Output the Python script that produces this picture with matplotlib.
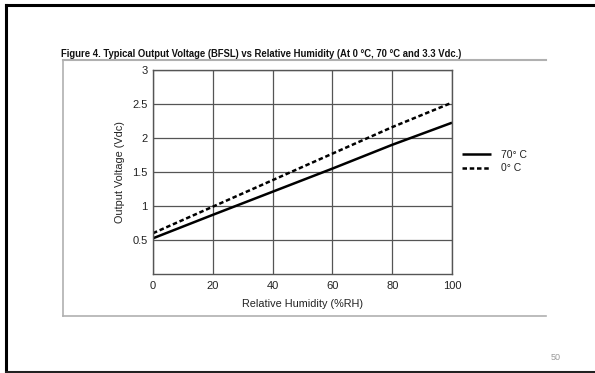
import matplotlib
matplotlib.use("Agg")
import matplotlib.pyplot as plt
from matplotlib.lines import Line2D

plt.rcParams['font.family'] = ['Liberation Sans', 'DejaVu Sans']

humidity = [0, 20, 40, 60, 80, 100]
v_70c = [0.525, 0.87, 1.21, 1.55, 1.90, 2.225]
v_0c = [0.60, 0.99, 1.38, 1.77, 2.16, 2.52]
x_ticks = [0, 20, 40, 60, 80, 100]
y_ticks = [0.5, 1, 1.5, 2, 2.5, 3]
y_tick_labels = ["0.5", "1", "1.5", "2", "2.5", "3"]
series_labels = ["70° C", "0° C"]
title = "Figure 4. Typical Output Voltage (BFSL) vs Relative Humidity (At 0 °C, 70 °C and 3.3 Vdc.)"
page_number = "50"

W, H = 595, 373
fig = plt.figure(figsize=(W / 100, H / 100), dpi=100)
fig.patch.set_facecolor("white")

def fx(px):
    return px / W

def fy(py):
    return 1 - py / H

# slide border (top, left, bottom)
fig.add_artist(Line2D([fx(6), fx(600)], [fy(5), fy(5)], color="black", lw=2.2))
fig.add_artist(Line2D([fx(6), fx(6)], [fy(5), fy(371.5)], color="black", lw=2.2))
fig.add_artist(Line2D([fx(6), fx(600)], [fy(371.5), fy(371.5)], color="#222222", lw=2.2))

# chart image box (gray)
box_c = "#b0b0b0"
fig.add_artist(Line2D([fx(63), fx(546)], [fy(59.5), fy(59.5)], color=box_c, lw=1.5))
fig.add_artist(Line2D([fx(63), fx(63)], [fy(59.5), fy(315.5)], color=box_c, lw=1.2))
fig.add_artist(Line2D([fx(63), fx(546)], [fy(315.5), fy(315.5)], color=box_c, lw=1.2))

fig.text(fx(61), fy(57), title, fontsize=6.85, fontweight="bold", ha="left", va="baseline", color="#111111")

ax = fig.add_axes([fx(153), fy(274), fx(452) - fx(153), (274 - 70) / H])
ax.set_xlim(0, 100)
ax.set_ylim(0, 3)
ax.set_xticks(x_ticks)
ax.set_yticks(y_ticks)
ax.set_yticklabels(y_tick_labels)
ax.grid(True, color="#555555", lw=0.9)
ax.set_axisbelow(True)
for s in ax.spines.values():
    s.set_color("#555555")
    s.set_linewidth(1.0)
ax.tick_params(length=0, labelsize=8, colors="#222222", pad=4)
ax.tick_params(axis="x", pad=5)

l1, = ax.plot(humidity, v_70c, color="black", lw=1.8, solid_capstyle="butt")
l2, = ax.plot(humidity, v_0c, color="black", lw=1.8, linestyle=(0, (1.8, 1.1)))

ax.set_xlabel("Relative Humidity (%RH)", fontsize=7.8, color="#222222", labelpad=6)
ax.set_ylabel("Output Voltage (Vdc)", fontsize=7.8, color="#222222", labelpad=5)

leg = fig.legend([l1, l2], series_labels, loc="center left",
                 bbox_to_anchor=(fx(457), fy(161.5)), frameon=False,
                 fontsize=7.5, handlelength=2.8, handletextpad=0.9,
                 labelspacing=0.35, borderpad=0)
for t in leg.get_texts():
    t.set_color("#222222")

fig.text(fx(556), fy(357), page_number, fontsize=6.5, color="#999999", ha="center", va="center")

fig.savefig("out.png", dpi=100)
